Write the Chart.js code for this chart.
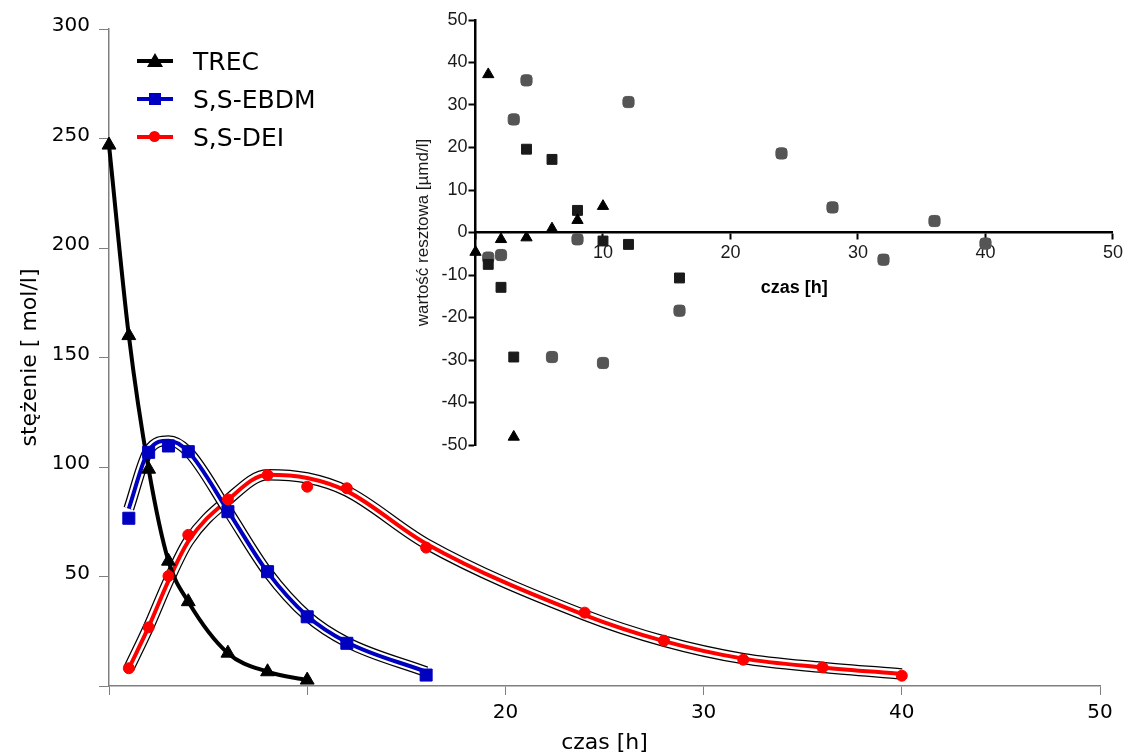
<!DOCTYPE html>
<html>
<head>
<meta charset="utf-8">
<script src="https://cdn.jsdelivr.net/npm/chart.js@4.4.1/dist/chart.umd.min.js"></script>
<style>
  html, body { margin: 0; padding: 0; background: #fff; }
  #wrap { position: relative; width: 1127px; height: 756px; overflow: hidden; }
  #main { position: absolute; left: 0; top: 0; }
  #inset { position: absolute; left: 400px; top: 0; }
  #legend { position: absolute; left: 137px; top: 42px; font-family: 'DejaVu Sans'; font-size: 25px; color: #000; }
  .row { height: 38px; display: flex; align-items: center; }
  .sample { position: relative; width: 36px; height: 38px; }
  .sample .ln { position: absolute; left: 0; right: 0; top: 17px; height: 4px; }
  .sample .mk { position: absolute; }
  .mk.tri { left: 10px; top: 11px; width: 0; height: 0; border-left: 8px solid transparent; border-right: 8px solid transparent; border-bottom: 14px solid #000; }
  .mk.sq { left: 12px; top: 13px; width: 12px; height: 12px; }
  .mk.dot { left: 12px; top: 13px; width: 11px; height: 11px; border-radius: 50%; }
  .row span { margin-left: 20px; }
</style>
</head>
<body>
<div id="wrap">
  <canvas id="main" width="1127" height="756"></canvas>
  <canvas id="inset" width="727" height="460"></canvas>
  <div id="legend"></div>
</div>
<script>
// series names
const seriesNames = ['TREC', 'S,S-EBDM', 'S,S-DEI'];

// sampling times [h]
const trecTime = [0, 1, 2, 3, 4, 6, 8, 10];
const ebdmTime = [1, 2, 3, 4, 6, 8, 10, 12, 16];
const deiTime = [1, 2, 3, 4, 6, 8, 10, 12, 16, 24, 28, 32, 36, 40];

// measured concentrations
const trecConc = [247, 160, 99, 57, 38.5, 15, 6.5, 2.7];
const ebdmConc = [76.6, 106.7, 109.6, 107, 79.6, 52.2, 31.6, 19.5, 5];
const deiConc = [8.1, 26.8, 50.2, 69, 85.2, 96.3, 91, 90.3, 63.2, 33.5, 20.7, 12, 8.5, 4.7];

// fitted curves (read at the sampling times)
const trecFit = [247, 160, 99, 57, 38.5, 15, 6.5, 2.7];
const ebdmFit = [81, 107.5, 112, 107, 80, 52, 32, 20, 6.5];
const deiFit = [8, 27, 48, 66, 85, 96.5, 95, 89, 65, 32.4, 20.5, 12.5, 8.5, 5.5];

// residuals for the inset
const trecRes = [-4.6, 37.2, -1.6, -48.1, -1.2, 0.9, 2.9, 6.2];
const ebdmRes = [-7.5, -12.9, -29.3, 19.6, 17.2, 5.2, -2, -2.8, -10.7];
const deiRes = [-5.9, -5.3, 26.6, 35.8, -29.3, -1.6, -30.7, 30.7, -18.4, 18.6, 5.9, -6.4, 2.7, -2.6];

// axis ticks and titles
const mainXTicks = [0, 10, 20, 30, 40, 50];
const mainXHidden = [0, 10];
const mainYTicks = [0, 50, 100, 150, 200, 250, 300];
const insetXTicks = [0, 10, 20, 30, 40, 50];
const insetYTicks = [-50, -40, -30, -20, -10, 0, 10, 20, 30, 40, 50];
const mainXTitle = 'czas [h]';
const mainYTitle = 'stężenie [ mol/l]';
const insetXTitle = 'czas [h]';
const insetYTitle = 'wartość resztowa [µmd/l]';

const colors = ['#000000', '#0000c0', '#ff0000'];
const AXIS_GREY = '#808080';

function pts(xs, ys) {
  return xs.map((x, i) => ({ x: x, y: ys[i] }));
}

function markers(xs, ys, style, r, col, order) {
  return { data: pts(xs, ys), pointStyle: style, pointRadius: r, backgroundColor: col, borderColor: col,
           borderWidth: 1, showLine: false, clip: false, order: order };
}

function curve(xs, ys, col, w, order) {
  return { data: pts(xs, ys), showLine: true, pointRadius: 0, borderColor: col, borderWidth: w,
           fill: false, cubicInterpolationMode: 'monotone', clip: false, order: order };
}

// legend
const legendMarks = ['tri', 'sq', 'dot'];
const legend = document.getElementById('legend');
seriesNames.forEach((name, i) => {
  const row = document.createElement('div');
  row.className = 'row';
  const s = document.createElement('div');
  s.className = 'sample';
  const ln = document.createElement('div');
  ln.className = 'ln';
  ln.style.background = colors[i];
  const mk = document.createElement('div');
  mk.className = 'mk ' + legendMarks[i];
  if (legendMarks[i] !== 'tri') mk.style.background = colors[i];
  s.appendChild(ln);
  s.appendChild(mk);
  const t = document.createElement('span');
  t.textContent = name;
  row.appendChild(s);
  row.appendChild(t);
  legend.appendChild(row);
});

const pixFont = { family: 'DejaVu Sans', size: 20 };
const titleFont = { family: 'DejaVu Sans', size: 22 };

new Chart(document.getElementById('main'), {
  type: 'scatter',
  data: {
    datasets: [
      markers(trecTime, trecConc, 'triangle', 8, colors[0], 0),
      markers(ebdmTime, ebdmConc, 'rect', 8.5, colors[1], 1),
      markers(deiTime, deiConc, 'circle', 5.5, colors[2], 2),
      curve(trecTime, trecFit, colors[0], 4, 3),
      curve(ebdmTime, ebdmFit, colors[1], 4, 4),
      curve(ebdmTime, ebdmFit, '#ffffff', 8.5, 5),
      curve(ebdmTime, ebdmFit, '#000000', 11, 6),
      curve(deiTime, deiFit, colors[2], 4, 7),
      curve(deiTime, deiFit, '#ffffff', 9, 8),
      curve(deiTime, deiFit, '#000000', 11.5, 9)
    ]
  },
  options: {
    responsive: false,
    animation: false,
    layout: { padding: { left: 0, top: 29, right: 27, bottom: 0 } },
    plugins: { legend: { display: false }, tooltip: { enabled: false } },
    scales: {
      x: {
        type: 'linear', min: 0, max: 50,
        afterBuildTicks: s => { s.ticks = mainXTicks.map(v => ({ value: v })); },
        ticks: { color: '#000', font: pixFont, padding: 6, maxRotation: 0,
                 callback: v => mainXHidden.includes(v) ? '' : String(v) },
        grid: { drawOnChartArea: false, color: AXIS_GREY, tickLength: 9, tickWidth: 1 },
        border: { color: AXIS_GREY, width: 1.5 },
        title: { display: true, text: mainXTitle, color: '#000', font: titleFont, padding: { top: 0, bottom: 0 } },
        afterFit: s => { s.height = 70; }
      },
      y: {
        type: 'linear', min: 0, max: 300,
        afterBuildTicks: s => { s.ticks = mainYTicks.map(v => ({ value: v })); },
        ticks: { color: '#000', font: pixFont, padding: 9, labelOffset: -3,
                 callback: v => v === 0 ? '' : String(v) },
        grid: { drawOnChartArea: false, color: AXIS_GREY, tickLength: 10, tickWidth: 1 },
        border: { color: AXIS_GREY, width: 1.5 },
        title: { display: true, text: mainYTitle, color: '#000', font: titleFont, padding: { top: 17, bottom: 0 } },
        afterFit: s => { s.width = 109; }
      }
    }
  }
});

const insetFont = { family: 'Liberation Sans', size: 18 };

new Chart(document.getElementById('inset'), {
  type: 'scatter',
  data: {
    datasets: [
      markers(trecTime, trecRes, 'triangle', 6.5, '#000000', 0),
      markers(ebdmTime, ebdmRes, 'rect', 7, '#1a1a1a', 1),
      markers(deiTime, deiRes, 'rectRounded', 6.5, '#555555', 2)
    ]
  },
  options: {
    responsive: false,
    animation: false,
    layout: { padding: { left: 0, top: 20, right: 14, bottom: 15 } },
    plugins: { legend: { display: false }, tooltip: { enabled: false } },
    scales: {
      x: {
        type: 'linear', position: { y: 0 }, min: 0, max: 50,
        afterBuildTicks: s => { s.ticks = insetXTicks.map(v => ({ value: v })); },
        ticks: { color: '#1a1a1a', font: insetFont, padding: 4, maxRotation: 0,
                 callback: v => v === 0 ? '' : String(v) },
        grid: { drawOnChartArea: false, color: '#000', tickLength: 6, tickWidth: 2 },
        border: { color: '#000', width: 2.5 },
        title: { display: true, text: insetXTitle, color: '#000',
                 font: { family: 'Liberation Sans', size: 18, weight: 'bold' }, padding: { top: 9, bottom: 0 } }
      },
      y: {
        type: 'linear', min: -50, max: 50,
        afterBuildTicks: s => { s.ticks = insetYTicks.map(v => ({ value: v })); },
        ticks: { color: '#1a1a1a', font: insetFont, padding: 1 },
        grid: { drawOnChartArea: false, color: '#000', tickLength: 7, tickWidth: 2 },
        border: { color: '#000', width: 2.5 },
        title: { display: true, text: insetYTitle, color: '#1a1a1a',
                 font: { family: 'Liberation Sans', size: 17 }, padding: { top: 13, bottom: 0 } },
        afterFit: s => { s.width = 75.5; }
      }
    }
  }
});
</script>
</body>
</html>
